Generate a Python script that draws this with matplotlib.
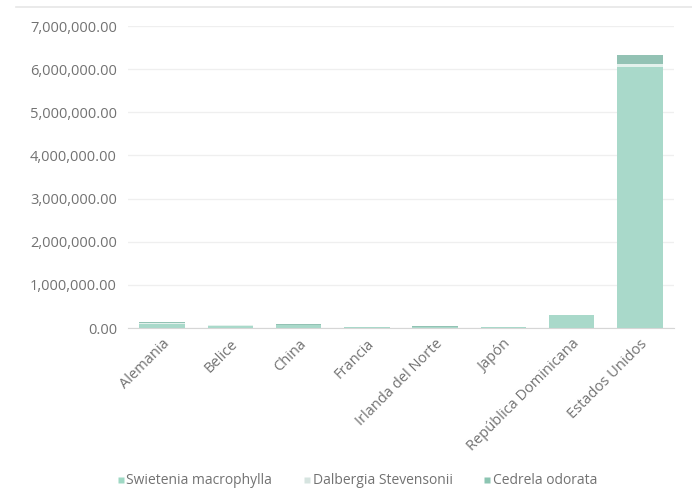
import matplotlib
matplotlib.use("Agg")
import matplotlib.pyplot as plt
from matplotlib.lines import Line2D
from matplotlib.ticker import FuncFormatter

categories = ["Alemania", "Belice", "China", "Francia", "Irlanda del Norte",
              "Japón", "República Dominicana", "Estados Unidos"]
series_names = ["Swietenia macrophylla", "Dalbergia Stevensonii", "Cedrela odorata"]
swietenia = [100000, 50000, 70000, 20000, 20000, 20000, 290000, 6050000]
dalbergia = [10000, 10000, 10000, 5000, 5000, 5000, 5000, 65000]
cedrela = [20000, 10000, 10000, 5000, 10000, 5000, 10000, 215000]
yticks = [0, 1000000, 2000000, 3000000, 4000000, 5000000, 6000000, 7000000]

bar_colors = ["#a9d9ca", "#e3f1ec", "#93c2b4"]
legend_colors = ["#9fd8c4", "#d6e4e0", "#8cc5b2"]

plt.rcParams['font.family'] = ['Open Sans', 'DejaVu Sans']
fig = plt.figure(figsize=(6.92, 4.88), dpi=100)
ax = fig.add_axes([128/692, 1-328/488, (674-128)/692, (328-26)/488])

x = list(range(len(categories)))
bottom = [0]*len(categories)
for vals, col in zip([swietenia, dalbergia, cedrela], bar_colors):
    ax.bar(x, vals, bottom=bottom, width=0.67, color=col, edgecolor='none', zorder=3)
    bottom = [b+v for b, v in zip(bottom, vals)]

ax.set_xlim(-0.5, len(categories)-0.5)
ax.set_ylim(0, 7000000)
ax.set_yticks(yticks)
ax.yaxis.set_major_formatter(FuncFormatter(lambda v, p: f"{v:,.2f}"))
ax.grid(axis='y', color='#efefef', linewidth=0.9, zorder=0)
for s in ['top', 'right', 'left']:
    ax.spines[s].set_visible(False)
ax.spines['bottom'].set_color('#d6d6d6')
ax.tick_params(axis='both', length=0, colors='#727272', labelsize=10.5)
ax.tick_params(axis='y', pad=8)
ax.set_xticks(x)
ax.set_xticklabels(categories, rotation=45, ha='right', rotation_mode='anchor')
ax.tick_params(axis='x', pad=6)

handles = [Line2D([0], [0], marker='s', linestyle='none', markersize=4,
                  markerfacecolor=c, markeredgecolor='none') for c in legend_colors]
fig.legend(handles, series_names, loc='center', bbox_to_anchor=(357/692, 1-481/488),
           ncol=3, frameon=False, fontsize=10, labelcolor='#727272',
           handletextpad=0.1, columnspacing=2.2, handlelength=0.6)

fig.add_artist(Line2D([16/692, 1], [1-7/488, 1-7/488], color='#e6e6e6', linewidth=1.2))

fig.savefig("out.png", dpi=100)
